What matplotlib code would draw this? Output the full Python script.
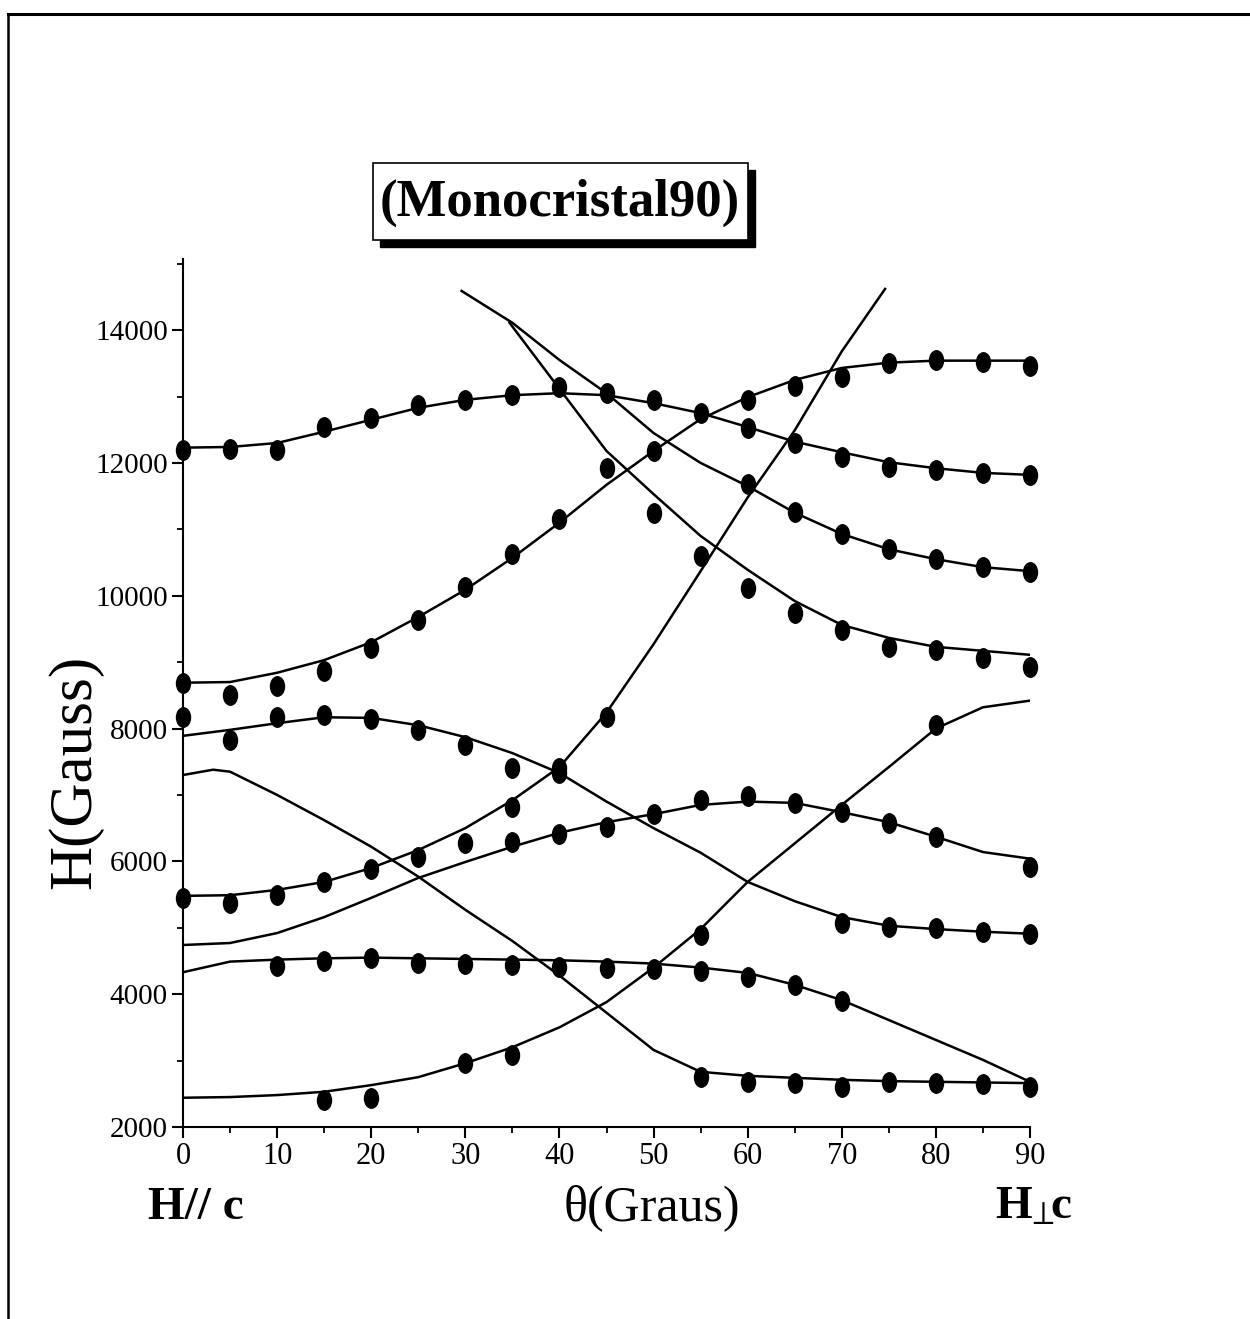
import matplotlib
matplotlib.use("Agg")
import matplotlib.pyplot as plt
import numpy as np
from matplotlib.path import Path
from matplotlib.patches import Rectangle
from matplotlib.ticker import MultipleLocator

plt.rcParams['font.family'] = ['Liberation Serif', 'DejaVu Serif']
plt.rcParams['mathtext.fontset'] = 'stix'

deg = [0, 5, 10, 15, 20, 25, 30, 35, 40, 45, 50, 55, 60, 65, 70, 75, 80, 85, 90]

# fitted curves
A_fit = [12230, 12240, 12300, 12470, 12650, 12830, 12950, 13020, 13050, 13020,
         12900, 12750, 12540, 12320, 12160, 12010, 11920, 11850, 11820]
B_fit = [8690, 8700, 8840, 9030, 9300, 9680, 10090, 10570, 11100, 11670,
         12180, 12660, 12990, 13250, 13430, 13510, 13540, 13540, 13540]
C_fit_x = [29.6, 35, 40, 45, 50, 55, 60, 65, 70, 75, 80, 85, 90]
C_fit = [14590, 14110, 13550, 13050, 12450, 12000, 11650, 11250, 10930, 10700,
         10550, 10430, 10370]
D_fit_x = [34.7, 40, 45, 50, 55, 60, 65, 70, 75, 80, 85, 90]
D_fit = [14110, 13115, 12180, 11530, 10900, 10390, 9920, 9560, 9365, 9230, 9170, 9110]
E_fit_x = [0, 5, 10, 15, 20, 25, 30, 35, 40, 45, 50, 55, 60, 65, 70, 74.6]
E_fit = [5480, 5490, 5570, 5690, 5900, 6170, 6500, 6920, 7420, 8240, 9270, 10370,
         11480, 12490, 13680, 14620]
F_fit = [7890, 7980, 8080, 8170, 8160, 8050, 7870, 7630, 7330, 6900, 6500, 6130,
         5690, 5400, 5160, 5030, 4980, 4940, 4910]
G_fit_x = [0, 3.2, 5, 10, 15, 20, 25, 30, 35, 40, 45, 50, 55, 60, 65, 70, 75, 80, 85, 90]
G_fit = [7300, 7380, 7350, 7000, 6620, 6220, 5770, 5270, 4800, 4280, 3720, 3160,
         2830, 2770, 2740, 2710, 2690, 2680, 2670, 2660]
I_fit = [4740, 4770, 4920, 5160, 5450, 5750, 5990, 6220, 6430, 6590, 6710, 6850,
         6900, 6880, 6740, 6590, 6370, 6140, 6040]
J_fit = [4330, 4490, 4520, 4540, 4550, 4540, 4530, 4520, 4510, 4490, 4460, 4400,
         4320, 4140, 3910, 3610, 3310, 3010, 2680]
K_fit = [2440, 2450, 2480, 2530, 2630, 2750, 2960, 3200, 3500, 3880, 4400, 4980,
         5690, 6270, 6850, 7420, 8000, 8320, 8420]

# measured points
A_x = deg
A_y = [12200, 12210, 12200, 12540, 12680, 12870, 12950, 13020, 13145, 13050,
       12950, 12750, 12530, 12300, 12090, 11940, 11890, 11850, 11820]
B_x = [0, 5, 10, 15, 20, 25, 30, 35, 40, 45, 50, 60, 65, 70, 75, 80, 85, 90]
B_y = [8690, 8510, 8640, 8870, 9210, 9640, 10130, 10630, 11160, 11930, 12180,
       12950, 13160, 13300, 13500, 13550, 13520, 13460]
C_x = [60, 65, 70, 75, 80, 85, 90]
C_y = [11680, 11260, 10930, 10700, 10550, 10430, 10360]
D_x = [50, 55, 60, 65, 70, 75, 80, 85, 90]
D_y = [11250, 10600, 10120, 9740, 9490, 9230, 9190, 9060, 8930]
E_x = [0, 5, 10, 15, 20, 25, 30, 35, 40, 45]
E_y = [5450, 5370, 5490, 5690, 5890, 6070, 6280, 6820, 7400, 8180]
F_x = [0, 5, 10, 15, 20, 25, 30, 35, 40, 70, 75, 80, 85, 90]
F_y = [8180, 7830, 8180, 8210, 8150, 7980, 7750, 7410, 7330, 5070, 5010, 5000, 4940, 4910]
G_x = [55, 60, 65, 70, 75, 80, 85, 90]
G_y = [2750, 2680, 2660, 2600, 2680, 2660, 2650, 2600]
I_x = [35, 40, 45, 50, 55, 60, 65, 70, 75, 80, 90]
I_y = [6290, 6410, 6520, 6710, 6930, 6990, 6880, 6740, 6580, 6370, 5920]
J_x = [10, 15, 20, 25, 30, 35, 40, 45, 50, 55, 60, 65, 70]
J_y = [4430, 4500, 4550, 4470, 4460, 4440, 4410, 4400, 4380, 4350, 4260, 4140, 3900]
K_x = [15, 20, 30, 35, 55, 80]
K_y = [2410, 2440, 2960, 3080, 4890, 8050]

fig = plt.figure(figsize=(12.5, 13.19), dpi=100)
ax = fig.add_axes([0.1464, 0.1456, 0.6776, 0.658])

fits = [(deg, A_fit), (deg, B_fit), (C_fit_x, C_fit), (D_fit_x, D_fit),
        (E_fit_x, E_fit), (deg, F_fit), (G_fit_x, G_fit), (deg, I_fit),
        (deg, J_fit), (deg, K_fit)]
for fx, fy in fits:
    ax.plot(fx, fy, color='black', lw=1.8, solid_joinstyle='round')

# elliptic dot marker
circ = Path.unit_circle()
ell = Path(circ.vertices * np.array([0.72, 1.0]), circ.codes)
pts = [(A_x, A_y), (B_x, B_y), (C_x, C_y), (D_x, D_y), (E_x, E_y),
       (F_x, F_y), (G_x, G_y), (I_x, I_y), (J_x, J_y), (K_x, K_y)]
for px, py in pts:
    ax.plot(px, py, ls='none', marker=ell, ms=14, color='black', clip_on=False)

ax.set_xlim(0, 90)
ax.set_ylim(2000, 15070)
ax.xaxis.set_major_locator(MultipleLocator(10))
ax.xaxis.set_minor_locator(MultipleLocator(5))
ax.yaxis.set_major_locator(MultipleLocator(2000))
ax.yaxis.set_minor_locator(MultipleLocator(1000))
for s in ['top', 'right']:
    ax.spines[s].set_visible(False)
for s in ['left', 'bottom']:
    ax.spines[s].set_linewidth(1.5)
ax.tick_params(which='major', length=8, width=1.5, labelsize=21, pad=3)
ax.tick_params(axis='x', labelsize=22)
ax.tick_params(which='minor', length=4, width=1.3)

ax.text(-0.094, 0.409, 'H(Gauss)', transform=ax.transAxes, rotation=90,
        fontsize=44, ha='right', va='center')

fig.text(0.5216, 0.0845, 'θ(Graus)', fontsize=36, ha='center', va='center')
fig.text(0.118, 0.0845, 'H// c', fontsize=34, fontweight='bold', ha='left', va='center')
fig.text(0.796, 0.0845, r'H$\!_{\perp}\!\!$c', fontsize=34, fontweight='bold',
         ha='left', va='center')

# title box with shadow
fig.patches.append(Rectangle((0.304, 0.8127), 0.3, 0.0584, transform=fig.transFigure,
                             facecolor='black', edgecolor='black'))
fig.patches.append(Rectangle((0.2984, 0.818), 0.3, 0.0584, transform=fig.transFigure,
                             facecolor='white', edgecolor='black', lw=1.2))
fig.text(0.448, 0.846, '(Monocristal90)', fontsize=38, fontweight='bold',
         ha='center', va='center')

# page frame
fig.add_artist(plt.Line2D([0.0064, 1.0], [0.9894, 0.9894], color='black', lw=2.2,
                          transform=fig.transFigure))
fig.add_artist(plt.Line2D([0.0064, 0.0064], [0.0, 0.9894], color='black', lw=1.8,
                          transform=fig.transFigure))

fig.savefig('out.png', dpi=100)
